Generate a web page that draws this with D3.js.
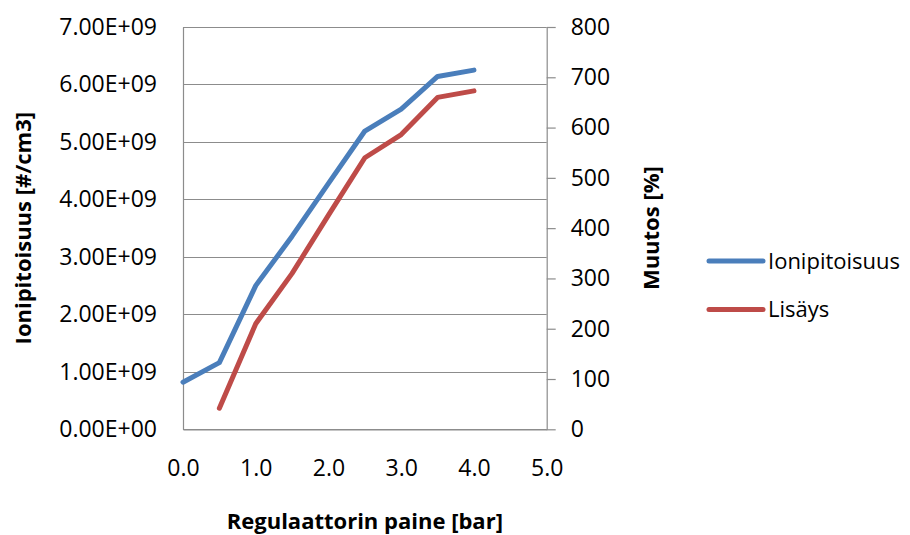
<!DOCTYPE html>
<html lang="en">
<head>
    <meta charset="UTF-8">
    <title>Ionipitoisuus</title>
    <script src="https://d3js.org/d3.v7.min.js"></script>
    <style>
        body { margin: 0; background: #fff; }
        text { font-family: "Open Sans", sans-serif; fill: #000; }
    </style>
</head>
<body>
    <div id="chart"></div>
    <script>
        // data
        var pressure = [0, 0.5, 1.0, 1.5, 2.0, 2.5, 3.0, 3.5, 4.0];
        var ionipitoisuus = [0.82e9, 1.16e9, 2.50e9, 3.36e9, 4.28e9, 5.19e9, 5.57e9, 6.14e9, 6.25e9];
        var lisays = [null, 42, 210, 310, 426, 540, 586, 660, 673];
        var xTicks = [0, 1, 2, 3, 4, 5];
        var leftTicks = [0, 1e9, 2e9, 3e9, 4e9, 5e9, 6e9, 7e9];
        var rightTicks = [0, 100, 200, 300, 400, 500, 600, 700, 800];
        var seriesNames = ['Ionipitoisuus', 'Lisäys'];
        var colors = ['#4a7ebb', '#be4b48'];

        var width = 910, height = 535;
        var pLeft = 183, pRight = 546.7, pTop = 27, pBottom = 429.3;

        var svg = d3.select('#chart')
            .append('svg')
            .attr('width', width)
            .attr('height', height);

        var x = d3.scaleLinear().domain([0, 5]).range([pLeft, pRight]);
        var yL = d3.scaleLinear().domain([0, 7e9]).range([pBottom, pTop]);
        var yR = d3.scaleLinear().domain([0, 800]).range([pBottom, pTop]);

        // gridlines
        svg.append('g')
            .selectAll('line')
            .data(leftTicks)
            .enter()
            .append('line')
            .attr('x1', pLeft)
            .attr('x2', pRight)
            .attr('y1', d => Math.round(yL(d)) + 0.5)
            .attr('y2', d => Math.round(yL(d)) + 0.5)
            .style('stroke', '#8c8c8c')
            .style('stroke-width', 1.2);

        // left axis (no tick marks)
        var gl = svg.append('g')
            .attr('transform', 'translate(' + pLeft + ',0)')
            .call(d3.axisLeft(yL).tickValues(leftTicks).tickSize(0).tickPadding(26)
                .tickFormat(d => (d / 1e9).toFixed(2) + 'E+' + (d === 0 ? '00' : '09')));
        gl.select('.domain').style('stroke', '#8c8c8c').style('stroke-width', 1.2);
        gl.selectAll('text').style('font-size', '23px').style('font-family', '"Open Sans", sans-serif');

        // right axis
        var gr = svg.append('g')
            .attr('transform', 'translate(' + pRight + ',0)')
            .call(d3.axisRight(yR).tickValues(rightTicks).tickSizeInner(9).tickSizeOuter(0).tickPadding(15));
        gr.select('.domain').style('stroke', '#8c8c8c').style('stroke-width', 1.2);
        gr.selectAll('.tick line').style('stroke', '#8c8c8c').style('stroke-width', 1.2);
        gr.selectAll('text').style('font-size', '23px').style('font-family', '"Open Sans", sans-serif');

        // bottom axis
        var gb = svg.append('g')
            .attr('transform', 'translate(0,' + pBottom + ')')
            .call(d3.axisBottom(x).tickValues(xTicks).tickSize(0).tickPadding(30)
                .tickFormat(d3.format('.1f')));
        gb.select('.domain').style('stroke', '#8c8c8c').style('stroke-width', 1.2);
        gb.selectAll('text').style('font-size', '23px').style('font-family', '"Open Sans", sans-serif');

        // lines
        var lineL = d3.line()
            .x((d, i) => x(pressure[i]))
            .y(d => yL(d));
        var lineR = d3.line()
            .defined(d => d !== null)
            .x((d, i) => x(pressure[i]))
            .y(d => yR(d));

        svg.append('path')
            .datum(ionipitoisuus)
            .attr('d', lineL)
            .style('fill', 'none')
            .style('stroke', colors[0])
            .style('stroke-width', 5)
            .style('stroke-linecap', 'round')
            .style('stroke-linejoin', 'round');

        svg.append('path')
            .datum(lisays)
            .attr('d', lineR)
            .style('fill', 'none')
            .style('stroke', colors[1])
            .style('stroke-width', 5)
            .style('stroke-linecap', 'round')
            .style('stroke-linejoin', 'round');

        // axis titles
        svg.append('text')
            .attr('x', (pLeft + pRight) / 2)
            .attr('y', 529)
            .attr('text-anchor', 'middle')
            .style('font-size', '22px')
            .style('font-weight', 'bold')
            .text('Regulaattorin paine [bar]');

        svg.append('text')
            .attr('transform', 'translate(31,' + ((pTop + pBottom) / 2) + ') rotate(-90)')
            .attr('text-anchor', 'middle')
            .style('font-size', '22px')
            .style('font-weight', 'bold')
            .text('Ionipitoisuus [#/cm3]');

        svg.append('text')
            .attr('transform', 'translate(659,' + ((pTop + pBottom) / 2) + ') rotate(-90)')
            .attr('text-anchor', 'middle')
            .style('font-size', '22px')
            .style('font-weight', 'bold')
            .text('Muutos [%]');

        // legend
        var legend = svg.append('g')
            .selectAll('g')
            .data(seriesNames)
            .enter()
            .append('g')
            .attr('transform', (d, i) => 'translate(709,' + (261 + i * 48.5) + ')');
        legend.append('line')
            .attr('x1', 0)
            .attr('x2', 54)
            .style('stroke', (d, i) => colors[i])
            .style('stroke-width', 5)
            .style('stroke-linecap', 'round');
        legend.append('text')
            .attr('x', 59)
            .attr('dy', '0.35em')
            .style('font-size', '22px')
            .text(d => d);
    </script>
</body>
</html>
